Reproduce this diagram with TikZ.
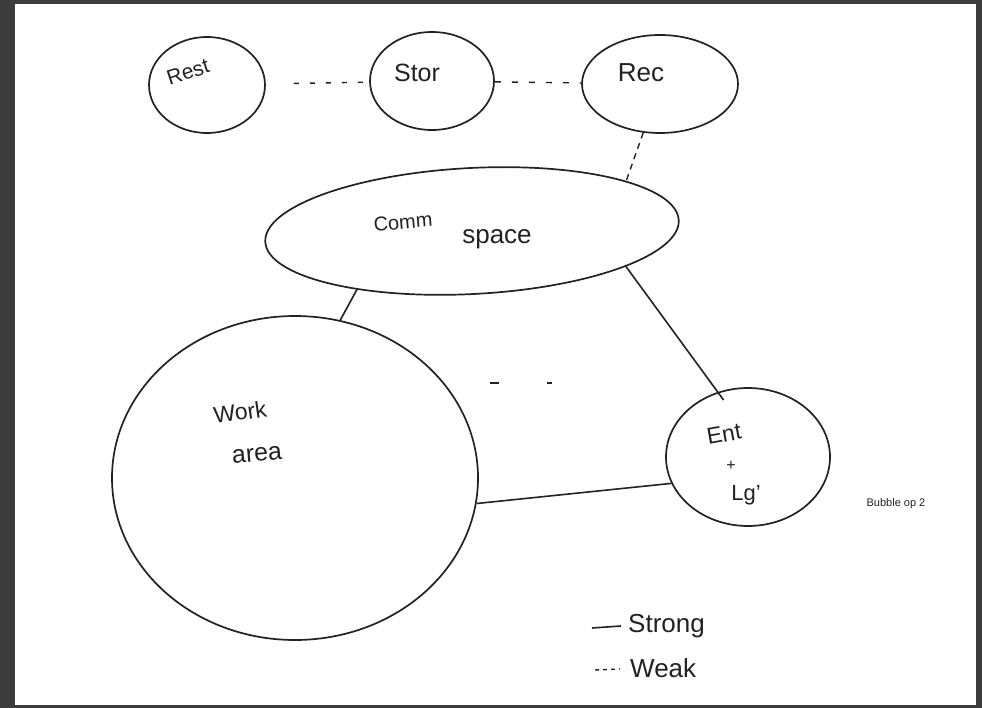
\documentclass[tikz,border=0pt]{standalone}
\usepackage{fontspec}
\setmainfont{Liberation Sans}
\usetikzlibrary{shapes.geometric}
\definecolor{ink}{HTML}{222222}
\definecolor{frame}{HTML}{3C3C3C}
\tikzset{
  bubble/.style={ellipse, draw=ink, line width=1.7pt, inner sep=0pt},
  strong/.style={draw=ink, line width=1.6pt},
  weak/.style={draw=ink, line width=1.4pt, dash pattern=on 5pt off 11pt},
  hand/.style={text=ink, inner sep=0pt},
}
\begin{document}
\begin{tikzpicture}[x=1pt, y=-1pt]
  % sheet on a dark frame
  \useasboundingbox (0,0) rectangle (982,708);
  \fill[frame] (0,0) rectangle (982,708);
  \fill[white] (15,4) rectangle (976,705);

  % bubbles
  \node[bubble, minimum width=116pt, minimum height=96pt] (rest) at (207,85) {};
  \node[bubble, minimum width=124pt, minimum height=98pt] (stor) at (432,81) {};
  \node[bubble, minimum width=156pt, minimum height=98pt] (rec)  at (660,84) {};
  \node[bubble, minimum width=414pt, minimum height=126pt, rotate=3] (comm) at (472,231) {};
  \node[bubble, minimum width=366pt, minimum height=324pt] (work) at (295,478) {};
  \node[bubble, minimum width=164pt, minimum height=138pt] (ent)  at (748,457) {};

  % labels inside bubbles
  \node[hand, font=\fontsize{21}{21}\selectfont, rotate=18] (trest) at (188,72) {Rest};
  \node[hand, font=\fontsize{25}{25}\selectfont] (tstor) at (417,73) {Stor};
  \node[hand, font=\fontsize{26}{26}\selectfont] (trec) at (641,73) {Rec};
  \node[hand, font=\fontsize{20}{20}\selectfont, rotate=5] (tcomm) at (403,222) {Comm};
  \node[hand, font=\fontsize{26}{26}\selectfont] (tspace) at (497,239) {space};
  \node[hand, font=\fontsize{23}{23}\selectfont, rotate=8] (twork) at (240,412) {Work};
  \node[hand, font=\fontsize{25}{25}\selectfont, rotate=5] (tarea) at (257,455) {area};
  \node[hand, font=\fontsize{23}{23}\selectfont, rotate=10] (tent) at (724,434) {Ent};
  \node[hand, font=\fontsize{16}{16}\selectfont] (tplus) at (731,466) {+};
  \node[hand, font=\fontsize{22}{22}\selectfont] (tlg) at (746,495) {Lg'};
  \node[hand, font=\fontsize{11}{11}\selectfont] (tnote) at (896,504) {Bubble op 2};

  % weak adjacencies
  \draw[weak, shorten <=28pt] (rest) -- (stor);
  \draw[weak, dash pattern=on 6pt off 11pt] (stor) -- (rec);
  \draw[weak, dash pattern=on 6pt off 5pt] (rec.251) -- (comm.15);
  \coordinate (w1) at (490,383);
  \coordinate (w2) at (556,383);
  \draw[weak, dash pattern=on 9pt off 48pt on 5pt off 20pt, line width=1.8pt] (w1) -- (w2);

  % strong adjacencies
  \draw[strong] (comm.204) -- (work.74);
  \draw[strong, shorten >=-10pt] (comm.344) -- (ent.115);
  \draw[strong] (work.352) -- (ent.199);

  % key
  \coordinate (k1a) at (592,628);
  \coordinate (k1b) at (621,626);
  \draw[strong] (k1a) -- (k1b);
  \node[hand, font=\fontsize{26}{26}\selectfont, anchor=west] (tstrong) at (628,626) {Strong};
  \coordinate (k2a) at (595,670);
  \coordinate (k2b) at (620,669);
  \draw[weak, dash pattern=on 4pt off 4pt] (k2a) -- (k2b);
  \node[hand, font=\fontsize{26}{26}\selectfont, anchor=west] (tweak) at (630,668) {Weak};
\end{tikzpicture}
\end{document}
